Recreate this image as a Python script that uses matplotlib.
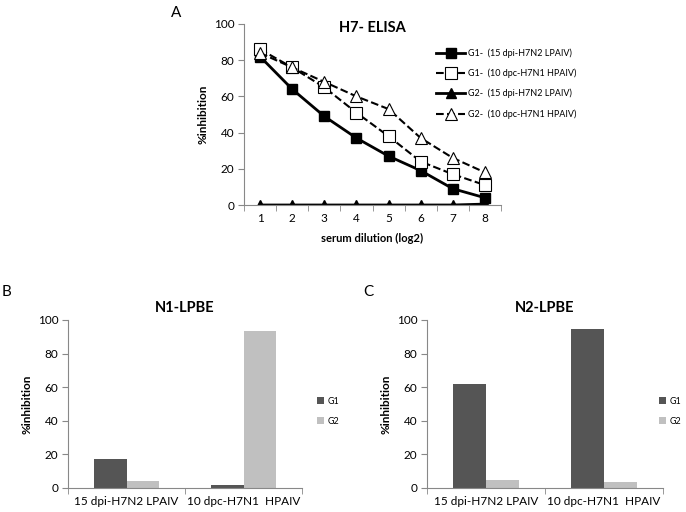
import matplotlib.pyplot as plt
import numpy as np

plt.rcParams['font.family'] = ['Lato', 'DejaVu Sans']

# Panel A data: H7-ELISA
dilutions = [1, 2, 3, 4, 5, 6, 7, 8]
g1_lpaiv = [82, 64, 49, 37, 27, 19, 9, 4]
g1_hpaiv = [86, 76, 65, 51, 38, 24, 17, 11]
g2_lpaiv = [0, 0, 0, 0, 0, 0, 0, 0.5]
g2_hpaiv = [84, 76, 68, 60, 53, 37, 26, 18]
line_labels = ["G1-  (15 dpi-H7N2 LPAIV)", "G1-  (10 dpc-H7N1 HPAIV)",
               "G2-  (15 dpi-H7N2 LPAIV)", "G2-  (10 dpc-H7N1 HPAIV)"]

# Panels B and C data
bar_cats = ["15 dpi-H7N2 LPAIV", "10 dpc-H7N1  HPAIV"]
n1_g1 = [17.5, 1.5]
n1_g2 = [4, 93.5]
n2_g1 = [62, 94.5]
n2_g2 = [5, 3.5]

W, H = 686, 512
fig = plt.figure(figsize=(W / 100, H / 100), dpi=100)


def box(x0, y0, x1, y1):
    return [x0 / W, 1 - y1 / H, (x1 - x0) / W, (y1 - y0) / H]


def style_axes(ax):
    for s in ['top', 'right']:
        ax.spines[s].set_visible(False)
    for s in ['left', 'bottom']:
        ax.spines[s].set_color('#888888')
        ax.spines[s].set_linewidth(0.8)
    ax.set_ylim(0, 100)
    ax.set_yticks([0, 20, 40, 60, 80, 100])
    ax.tick_params(axis='y', length=4, color='#888888', labelsize=8.5, pad=3)
    ax.set_ylabel('%inhibition', fontsize=8.5, fontweight='bold')


# ---- Panel A ----
axA = fig.add_axes(box(244, 24, 501, 205))
style_axes(axA)
axA.plot(dilutions, g1_lpaiv, '-', color='black', lw=2, marker='s', ms=6.5,
         mfc='black', mec='black', label=line_labels[0])
axA.plot(dilutions, g1_hpaiv, '--', color='black', lw=1.5, marker='s', ms=8,
         mfc='white', mec='black', mew=0.8, label=line_labels[1])
axA.plot(dilutions, g2_lpaiv, '-', color='black', lw=2, marker='^', ms=6.5,
         mfc='black', mec='black', label=line_labels[2])
axA.plot(dilutions, g2_hpaiv, '--', color='black', lw=1.5, marker='^', ms=8,
         mfc='white', mec='black', mew=0.8, label=line_labels[3])
axA.set_xlim(0.5, 8.5)
axA.set_xticks(dilutions)
axA.set_xticks(np.arange(0.5, 9, 1), minor=True)
axA.tick_params(axis='x', which='major', length=0, labelsize=8.5, pad=6)
axA.tick_params(axis='x', which='minor', length=4, color='#888888')
axA.set_xlabel('serum dilution (log2)', fontsize=8, fontweight='bold', labelpad=6)
axA.set_title('H7- ELISA', fontsize=10.5, fontweight='bold', y=0.91)
axA.legend(loc='upper left', bbox_to_anchor=(428 / W, 1 - 40 / H),
           bbox_transform=fig.transFigure, frameon=False, fontsize=6.5,
           handlelength=3.2, handletextpad=0.3, labelspacing=1.2)
fig.text(176 / W, 1 - 13 / H, 'A', fontsize=11, ha='center', va='center')

# ---- Panels B and C ----
bw = 0.28
x = np.arange(len(bar_cats))


def bar_panel(rect, g1, g2, title, legend_x, legend_y):
    ax = fig.add_axes(box(*rect))
    style_axes(ax)
    ax.bar(x - bw, g1, bw, align='edge', color='#555555', label='G1')
    ax.bar(x, g2, bw, align='edge', color='#c0c0c0', label='G2')
    ax.set_xlim(-0.5, 1.5)
    ax.set_xticks(x)
    ax.set_xticklabels(bar_cats)
    ax.set_xticks([-0.5, 0.5, 1.5], minor=True)
    ax.tick_params(axis='x', which='major', length=0, labelsize=8.5, pad=6)
    ax.tick_params(axis='x', which='minor', length=4, color='#888888')
    ax.text(0.5, 1.03, title, transform=ax.transAxes, ha='center', va='bottom',
            fontsize=10.5, fontweight='bold')
    ax.legend(loc='upper left', bbox_to_anchor=(legend_x / W, 1 - legend_y / H),
              bbox_transform=fig.transFigure, frameon=False, fontsize=6.5,
              handlelength=0.8, handleheight=0.8, handletextpad=0.4,
              labelspacing=1.2, borderpad=0, borderaxespad=0)
    return ax


bar_panel((68, 320, 302, 488), n1_g1, n1_g2, 'N1-LPBE', 317, 397)
bar_panel((427, 320, 663, 488), n2_g1, n2_g2, 'N2-LPBE', 659, 397)
fig.text(7 / W, 1 - 292 / H, 'B', fontsize=11, ha='center', va='center')
fig.text(368 / W, 1 - 292 / H, 'C', fontsize=11, ha='center', va='center')

fig.savefig('out.png', dpi=100)
